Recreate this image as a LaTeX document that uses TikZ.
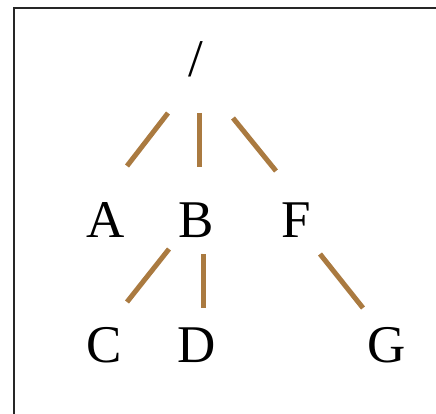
\documentclass[tikz,border=0pt]{standalone}
\usepackage{fontspec}
\setmainfont{Liberation Serif}
\usetikzlibrary{calc}
\definecolor{edgebrown}{RGB}{170,122,64}
\tikzset{
  lbl/.style={inner sep=0pt, font=\fontsize{53}{60}\selectfont},
  edge/.style={draw=edgebrown, line width=5pt, line cap=butt},
  frame/.style={draw=black!85, line width=1.3pt}
}
\begin{document}
\begin{tikzpicture}[x=1pt,y=-1pt]
\useasboundingbox (0,0) rectangle (436,414);
\clip (0,0) rectangle (436,414);
\draw[frame] (14,8) rectangle (460,440);
\node[lbl] (root) at (196,59) {/};
\node[lbl] (A) at (106,220.5) {A};
\node[lbl] (B) at (196,220.5) {B};
\node[lbl] (F) at (296,220.5) {F};
\node[lbl] (C) at (104,345) {C};
\node[lbl] (D) at (197,345) {D};
\node[lbl] (G) at (387,345) {G};
\draw[edge] ($(root)+(-28,54)$) -- ($(A)+(21,-54.5)$);
\draw[edge] ($(root)+(3,54)$) -- ($(B)+(3,-53.5)$);
\draw[edge] ($(root)+(37,59)$) -- ($(F)+(-20,-49.5)$);
\draw[edge] ($(B)+(-27,28.5)$) -- ($(C)+(23,-43)$);
\draw[edge] ($(B)+(7,33.5)$) -- ($(D)+(6,-37)$);
\draw[edge] ($(F)+(24,33.5)$) -- ($(G)+(-24,-37)$);
\end{tikzpicture}
\end{document}
